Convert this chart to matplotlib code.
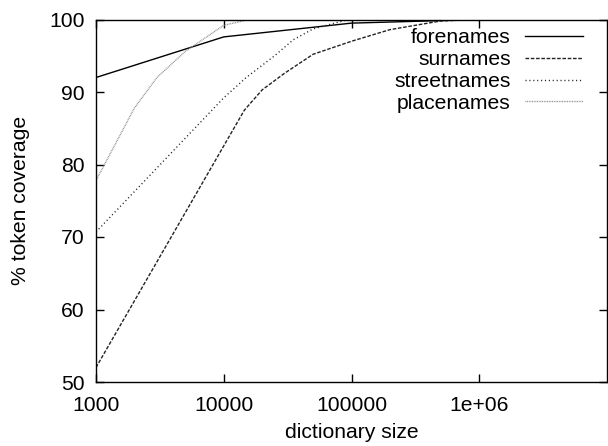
import matplotlib
matplotlib.use("Agg")
import matplotlib.pyplot as plt
from matplotlib.ticker import FixedLocator, FixedFormatter, NullLocator

plt.rcParams['font.family'] = ['Liberation Sans', 'DejaVu Sans']

# data
fore_x = [1000, 10000, 100000, 1000000]
fore_y = [92.0, 97.6, 99.5, 100.0]

sur_x = [1000, 14500, 20000, 30000, 50000, 100000, 200000, 500000, 1000000]
sur_y = [52.0, 87.5, 90.3, 92.6, 95.2, 97.0, 98.6, 99.8, 100.0]

street_x = [1000, 10000, 15000, 25000, 35000, 50000, 90000, 200000, 1000000]
street_y = [70.7, 89.2, 92.0, 95.0, 97.2, 98.7, 99.9, 100.0, 100.0]

place_x = [1000, 2000, 3000, 5000, 10000, 15000, 20000, 1000000]
place_y = [77.8, 87.8, 92.0, 95.6, 99.2, 99.9, 100.0, 100.0]

xticks = [1000, 10000, 100000, 1000000]
xticklabels = ["1000", "10000", "100000", "1e+06"]
yticks = [50, 60, 70, 80, 90, 100]

FS = 15.2
W, H = 608, 446
fig = plt.figure(figsize=(W / 100, H / 100), dpi=100)
ax = fig.add_axes([96 / W, 1 - 382 / H, (607 - 96) / W, (382 - 19.5) / H])

ax.plot(fore_x, fore_y, color='black', lw=1.0, label='forenames')
ax.plot(sur_x, sur_y, color='#222222', lw=1.0, dashes=(2.6, 1.2), label='surnames')
ax.plot(street_x, street_y, color='#222222', lw=1.0, dashes=(0.8, 2.0), label='streetnames')
ax.plot(place_x, place_y, color='#888888', lw=1.0, dashes=(0.6, 0.6), label='placenames')

ax.set_xscale('log')
ax.set_xlim(1000, 1e7)
ax.set_ylim(50, 100)
ax.xaxis.set_major_locator(FixedLocator(xticks))
ax.xaxis.set_major_formatter(FixedFormatter(xticklabels))
ax.xaxis.set_minor_locator(NullLocator())
ax.set_yticks(yticks)
ax.tick_params(direction='in', length=6, width=1, top=True, right=True,
               labelsize=FS)
ax.tick_params(axis='x', pad=10)
ax.tick_params(axis='y', pad=8)
for s in ax.spines.values():
    s.set_linewidth(1.0)

ax.set_xlabel('dictionary size', fontsize=FS, labelpad=6)
ax.set_ylabel('% token coverage', fontsize=FS, labelpad=14)

leg = ax.legend(loc='upper right', frameon=False, markerfirst=False,
                fontsize=FS, handlelength=2.75, handletextpad=0.67,
                borderpad=0.0, borderaxespad=0.0, labelspacing=0.14,
                bbox_to_anchor=((583 - 96) / 511, 1 - 8.5 / 362.5))

fig.savefig('out.png', dpi=100)
